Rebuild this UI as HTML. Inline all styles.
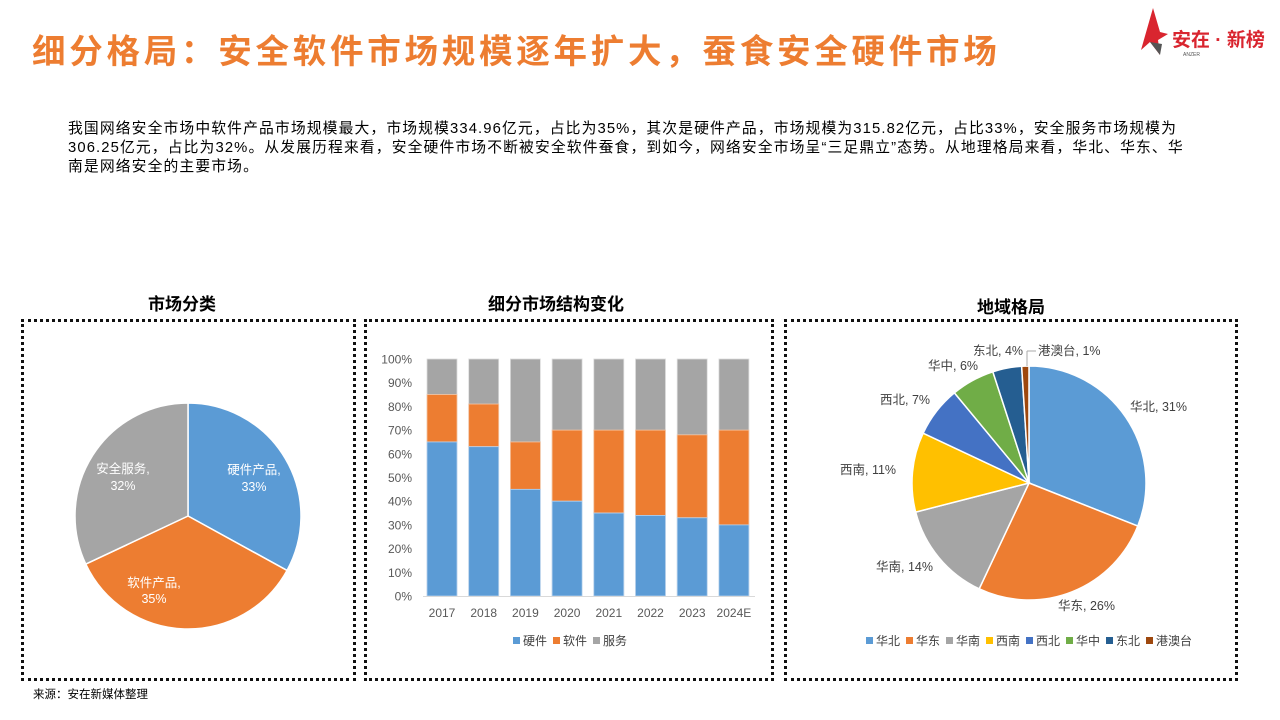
<!DOCTYPE html>
<html><head><meta charset="utf-8"><style>
body{margin:0;width:1280px;height:720px;background:#fff;overflow:hidden;position:relative;font-family:"Liberation Sans","Noto Sans CJK SC",sans-serif}
.t{position:absolute;left:32px;top:24px;font-size:33.5px;font-weight:bold;color:#ED7D31;white-space:nowrap;letter-spacing:3.75px}
.p{position:absolute;left:68px;top:120px;font-size:14.8px;line-height:19px;color:#000;white-space:nowrap;letter-spacing:1.12px}
.h{position:absolute;font-size:17px;font-weight:bold;color:#000;white-space:nowrap}
.box{position:absolute;border:3px dotted #111;box-sizing:border-box}
.src{position:absolute;left:33px;top:686px;font-size:11.5px;color:#000}
</style></head><body>
<div class="t">细分格局：安全软件市场规模逐年扩大，蚕食安全硬件市场</div>
<div class="p">我国网络安全市场中软件产品市场规模最大，市场规模334.96亿元，占比为35%，其次是硬件产品，市场规模为315.82亿元，占比33%，安全服务市场规模为<br>306.25亿元，占比为32%。从发展历程来看，安全硬件市场不断被安全软件蚕食，到如今，网络安全市场呈“三足鼎立”态势。从地理格局来看，华北、华东、华<br>南是网络安全的主要市场。</div>
<div class="h" style="left:148px;top:290px">市场分类</div>
<div class="h" style="left:488px;top:290px">细分市场结构变化</div>
<div class="h" style="left:977px;top:293px">地域格局</div>
<div class="box" style="left:21px;top:319px;width:335px;height:362px"></div>
<div class="box" style="left:364px;top:319px;width:410px;height:362px"></div>
<div class="box" style="left:784px;top:319px;width:454px;height:362px"></div>
<div class="src">来源：安在新媒体整理</div>
<svg width="1280" height="720" style="position:absolute;left:0;top:0" font-family="Liberation Sans, Noto Sans CJK SC, sans-serif">
<g id="logo">
<polygon points="1153,8 1141,50 1150,42 1160,55 1158,40 1168,34 1160,32" fill="#d9252f"/>
<polygon points="1150,42 1160,55 1162,44" fill="#555"/>
<text x="1172" y="46" font-size="19" font-weight="bold" fill="#d9252f">安在 · 新榜</text>
<text x="1183" y="56" font-size="5" fill="#555">ANZER</text>
</g>
<g id="pie1"></g><g id="pie2"></g><g id="bars"></g>
<g font-size="12.5" fill="#fff" text-anchor="middle">
<text x="254" y="474">硬件产品,</text><text x="254" y="491">33%</text>
<text x="154" y="587">软件产品,</text><text x="154" y="603">35%</text>
<text x="123" y="473">安全服务,</text><text x="123" y="490">32%</text>
</g>
<g font-size="12.5" fill="#404040">
<text x="1130" y="411">华北, 31%</text>
<text x="1058" y="610">华东, 26%</text>
<text x="876" y="571">华南, 14%</text>
<text x="840" y="474">西南, 11%</text>
<text x="880" y="404">西北, 7%</text>
<text x="928" y="370">华中, 6%</text>
<text x="973" y="355">东北, 4%</text>
<text x="1038" y="355">港澳台, 1%</text>
<line x1="1027" y1="351" x2="1036" y2="351" stroke="#aaa"/><line x1="1027" y1="351" x2="1027" y2="366" stroke="#aaa"/>
</g>
<g id="leg2" font-size="12" fill="#404040"></g>
<g font-size="12" fill="#404040">
<rect x="513" y="637" width="7" height="7" fill="#5B9BD5"/><text x="523" y="645">硬件</text>
<rect x="553" y="637" width="7" height="7" fill="#ED7D31"/><text x="563" y="645">软件</text>
<rect x="593" y="637" width="7" height="7" fill="#A5A5A5"/><text x="603" y="645">服务</text>
</g>
</svg>
<script>
function slices(g,cx,cy,r,vals,cols){var s=0,tot=vals.reduce((a,b)=>a+b,0),h='';
for(var i=0;i<vals.length;i++){var a0=s/tot*2*Math.PI,a1=(s+vals[i])/tot*2*Math.PI;s+=vals[i];
var x0=cx+r*Math.sin(a0),y0=cy-r*Math.cos(a0),x1=cx+r*Math.sin(a1),y1=cy-r*Math.cos(a1);
h+='<path d="M'+cx+','+cy+'L'+x0+','+y0+'A'+r+','+r+' 0 '+((a1-a0)>Math.PI?1:0)+' 1 '+x1+','+y1+'Z" fill="'+cols[i]+'" stroke="#fff" stroke-width="1.5"/>';}
document.getElementById(g).innerHTML=h;}
slices('pie1',188,516,113,[33,35,32],['#5B9BD5','#ED7D31','#A5A5A5']);
var c2=['#5B9BD5','#ED7D31','#A5A5A5','#FFC000','#4472C4','#70AD47','#255E91','#9E480E'];
slices('pie2',1029,483,117,[31,26,14,11,7,6,4,1],c2);
var names=['华北','华东','华南','西南','西北','华中','东北','港澳台'],lx=[866,906,946,986,1026,1066,1106,1146],lh='';
for(var i=0;i<8;i++){lh+='<rect x="'+lx[i]+'" y="637" width="7" height="7" fill="'+c2[i]+'"/><text x="'+(lx[i]+10)+'" y="645">'+names[i]+'</text>';}
document.getElementById('leg2').innerHTML=lh;
var hw=[65,63,45,40,35,34,33,30],sw=[20,18,20,30,35,36,35,40],yrs=['2017','2018','2019','2020','2021','2022','2023','2024E'];
var y0=596,H=237,b='';
for(var k=0;k<=10;k++){var y=y0-H*k/10;b+='<text x="412" y="'+(y+4.5)+'" font-size="12" fill="#595959" text-anchor="end">'+(k*10)+'%</text>';}
for(var i=0;i<8;i++){var x=427+i*41.7,hh=H*hw[i]/100,sh=H*sw[i]/100;
b+='<rect x="'+x+'" y="'+(y0-H)+'" width="30" height="'+H+'" fill="#A5A5A5" stroke="#ddd" stroke-width="0.8"/>';
b+='<rect x="'+x+'" y="'+(y0-hh-sh)+'" width="30" height="'+sh+'" fill="#ED7D31" stroke="#f5c6a5" stroke-width="0.8"/>';
b+='<rect x="'+x+'" y="'+(y0-hh)+'" width="30" height="'+hh+'" fill="#5B9BD5" stroke="#b8d3ee" stroke-width="0.8"/>';
b+='<text x="'+(x+15)+'" y="617" font-size="12" fill="#595959" text-anchor="middle">'+yrs[i]+'</text>';}
b+='<line x1="423" y1="596.5" x2="755" y2="596.5" stroke="#d9d9d9"/>';
document.getElementById('bars').innerHTML=b;
</script>
</body></html>
